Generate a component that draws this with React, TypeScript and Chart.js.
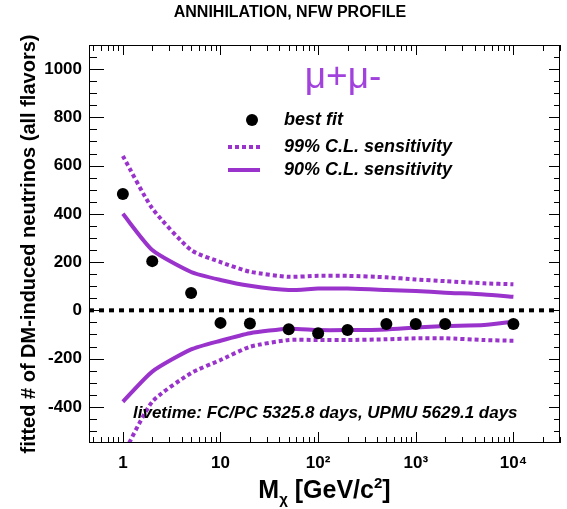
import React, { useEffect, useRef } from 'react';
import { Chart, registerables } from 'chart.js';

Chart.register(...registerables);

// ---------- text ----------
const TITLE = 'ANNIHILATION, NFW PROFILE';
const Y_TITLE = 'fitted # of DM-induced neutrinos (all flavors)';
const CHANNEL = 'μ+μ-';
const LIVETIME = 'livetime: FC/PC 5325.8 days, UPMU 5629.1 days';
const LABEL_BEST = 'best fit';
const LABEL_99 = '99% C.L. sensitivity';
const LABEL_90 = '90% C.L. sensitivity';

// ---------- axes ----------
const X_MIN = 0.45;
const X_MAX = 30000;
const Y_MIN = -550;
const Y_MAX = 1100;
const xTicks = [1, 10, 100, 1000, 10000];
const xTickLabels = ['1', '10', '10²', '10³', '10⁴'];
const yTicks = [-400, -200, 0, 200, 400, 600, 800, 1000];

// ---------- data ----------
const masses = [1, 2, 5, 10, 20, 50, 100, 200, 500, 1000, 2000, 5000, 10000];
const upper90 = [400, 250, 159, 126, 102, 84, 90, 90, 84, 80, 73, 66, 56];
const lower90 = [-379, -254, -162, -126, -95, -76, -82, -82, -79, -71, -65, -61, -47];
const upper99 = [640, 423, 250, 200, 160, 139, 143, 143, 137, 128, 121, 112, 108];
const lower99 = [-600, -379, -260, -206, -151, -123, -123, -123, -120, -116, -116, -123, -126];

const bestMasses = [1, 2, 5, 10, 20, 50, 100, 200, 500, 1000, 2000, 10000];
const bestFit = [482, 204, 72, -52, -55, -78, -95, -82, -57, -57, -57, -57];

const zeroX = [X_MIN, X_MAX];
const zeroY = [0, 0];

const PURPLE = '#9933cc';
const CHANNEL_COLOR = '#a142dd';
const FONT = "'Liberation Sans', Arial, Helvetica, sans-serif";

const pts = (xs: number[], ys: number[]) => xs.map((x, i) => ({ x, y: ys[i] }));

const decorPlugin = {
  id: 'decor',
  afterDraw(chart: any) {
    const { ctx, chartArea: a, scales } = chart;
    const xs = scales.x;
    const ys = scales.y;
    ctx.save();

    // frame
    ctx.strokeStyle = '#000';
    ctx.lineWidth = 1;
    ctx.strokeRect(a.left + 0.5, a.top + 0.5, a.right - a.left - 1, a.bottom - a.top - 1);

    // ticks inside frame
    ctx.beginPath();
    for (let e = -1; e <= 5; e++) {
      for (let k = 1; k <= 9; k++) {
        const v = k * Math.pow(10, e);
        if (v < X_MIN || v > X_MAX) continue;
        const px = Math.round(xs.getPixelForValue(v)) + 0.5;
        const lenB = k === 1 ? 11 : 6;
        const lenT = k === 1 ? 10 : 6;
        ctx.moveTo(px, a.bottom);
        ctx.lineTo(px, a.bottom - lenB);
        ctx.moveTo(px, a.top);
        ctx.lineTo(px, a.top + lenT);
      }
    }
    for (let v = -500; v <= Y_MAX; v += 50) {
      const py = Math.round(ys.getPixelForValue(v)) + 0.5;
      const major = v % 200 === 0;
      ctx.moveTo(a.left, py);
      ctx.lineTo(a.left + (major ? 15 : 8), py);
      ctx.moveTo(a.right, py);
      ctx.lineTo(a.right - (major ? 11 : 6), py);
    }
    ctx.stroke();

    // title
    ctx.fillStyle = '#000';
    ctx.font = `bold 16px ${FONT}`;
    ctx.textAlign = 'center';
    ctx.textBaseline = 'middle';
    ctx.fillText(TITLE, 290, 13);

    // channel label
    ctx.fillStyle = CHANNEL_COLOR;
    ctx.font = `37px ${FONT}`;
    ctx.textBaseline = 'alphabetic';
    ctx.fillText(CHANNEL, 343, 88);

    // legend
    const lx0 = 228, lx1 = 260, tx = 284;
    ctx.fillStyle = '#000';
    ctx.beginPath();
    ctx.arc(252, 120, 6, 0, Math.PI * 2);
    ctx.fill();
    ctx.strokeStyle = PURPLE;
    ctx.lineWidth = 4;
    ctx.setLineDash([4, 3]);
    ctx.beginPath();
    ctx.moveTo(lx0, 147);
    ctx.lineTo(lx1, 147);
    ctx.stroke();
    ctx.setLineDash([]);
    ctx.beginPath();
    ctx.moveTo(lx0, 170);
    ctx.lineTo(lx1, 170);
    ctx.stroke();
    ctx.fillStyle = '#000';
    ctx.font = `italic bold 18px ${FONT}`;
    ctx.textAlign = 'left';
    ctx.textBaseline = 'middle';
    ctx.fillText(LABEL_BEST, tx, 120);
    ctx.fillText(LABEL_99, tx, 147);
    ctx.fillText(LABEL_90, tx, 170);

    // livetime
    ctx.font = `italic bold 17px ${FONT}`;
    ctx.textBaseline = 'alphabetic';
    ctx.fillText(LIVETIME, 133, 418);

    // x title: M_chi [GeV/c^2]
    const big = `bold 25px ${FONT}`;
    const sub = `bold 15px ${FONT}`;
    const sup = `bold 15px ${FONT}`;
    ctx.font = big;
    const wM = ctx.measureText('M').width;
    const wMid = ctx.measureText(' [GeV/c').width;
    const wEnd = ctx.measureText(']').width;
    ctx.font = sub;
    const wChi = ctx.measureText('χ').width;
    ctx.font = sup;
    const w2 = ctx.measureText('2').width;
    const total = wM + wChi + wMid + w2 + wEnd;
    let cx = (a.left + a.right) / 2 - total / 2;
    const base = 498;
    ctx.font = big;
    ctx.fillText('M', cx, base);
    cx += wM;
    ctx.font = sub;
    ctx.fillText('χ', cx, base + 6);
    cx += wChi;
    ctx.font = big;
    ctx.fillText(' [GeV/c', cx, base);
    cx += wMid;
    ctx.font = sup;
    ctx.fillText('2', cx, base - 10);
    cx += w2;
    ctx.font = big;
    ctx.fillText(']', cx, base);

    ctx.restore();
  },
};

export default function App() {
  const ref = useRef<HTMLCanvasElement | null>(null);

  useEffect(() => {
    if (!ref.current) return;
    const chart = new Chart(ref.current, {
      type: 'line',
      data: {
        datasets: [
          {
            label: LABEL_BEST,
            data: pts(bestMasses, bestFit),
            showLine: false,
            pointRadius: 6,
            pointBackgroundColor: '#000',
            pointBorderColor: '#000',
            pointBorderWidth: 0,
            order: 0,
          },
          {
            label: LABEL_90 + ' (upper)',
            data: pts(masses, upper90),
            borderColor: PURPLE,
            borderWidth: 4,
            pointRadius: 0,
            tension: 0.2,
            order: 1,
          },
          {
            label: LABEL_90 + ' (lower)',
            data: pts(masses, lower90),
            borderColor: PURPLE,
            borderWidth: 4,
            pointRadius: 0,
            tension: 0.2,
            order: 1,
          },
          {
            label: LABEL_99 + ' (upper)',
            data: pts(masses, upper99),
            borderColor: PURPLE,
            borderWidth: 4,
            borderDash: [4, 3],
            pointRadius: 0,
            tension: 0.2,
            order: 2,
          },
          {
            label: LABEL_99 + ' (lower)',
            data: pts(masses, lower99),
            borderColor: PURPLE,
            borderWidth: 4,
            borderDash: [4, 3],
            pointRadius: 0,
            tension: 0.2,
            order: 2,
          },
          {
            label: 'zero',
            data: pts(zeroX, zeroY),
            borderColor: '#000',
            borderWidth: 4,
            borderDash: [5, 5],
            pointRadius: 0,
            order: 3,
          },
        ],
      },
      options: {
        animation: false,
        responsive: true,
        maintainAspectRatio: false,
        layout: { padding: { top: 45, right: 7, bottom: 0, left: 0 } },
        plugins: {
          legend: { display: false },
          tooltip: { enabled: false },
          title: { display: false },
        },
        scales: {
          x: {
            type: 'logarithmic',
            min: X_MIN,
            max: X_MAX,
            grid: { display: false, drawTicks: false },
            border: { display: false },
            afterBuildTicks: (s: any) => {
              s.ticks = xTicks.map((v) => ({ value: v }));
            },
            afterFit: (s: any) => {
              s.height = 66;
            },
            ticks: {
              autoSkip: false,
              maxRotation: 0,
              minRotation: 0,
              padding: 10,
              color: '#000',
              font: { family: FONT, size: 17, weight: 'bold' },
              callback: (_v: any, i: number) => xTickLabels[i],
            },
          },
          y: {
            type: 'linear',
            min: Y_MIN,
            max: Y_MAX,
            grid: { display: false, drawTicks: false },
            border: { display: false },
            afterBuildTicks: (s: any) => {
              s.ticks = yTicks.map((v) => ({ value: v }));
            },
            afterFit: (s: any) => {
              s.width = 89;
            },
            ticks: {
              padding: 7,
              color: '#000',
              font: { family: FONT, size: 17, weight: 'bold' },
              callback: (v: any) => String(v),
            },
            title: {
              display: true,
              text: Y_TITLE,
              color: '#000',
              font: { family: FONT, size: 20, weight: 'bold' },
              padding: { top: 17, bottom: 0 },
            },
          },
        },
      },
      plugins: [decorPlugin],
    });
    return () => chart.destroy();
  }, []);

  return (
    <div style={{ position: 'absolute', left: 0, top: 0, width: 567, height: 509, background: '#fff' }}>
      <canvas ref={ref} />
    </div>
  );
}
